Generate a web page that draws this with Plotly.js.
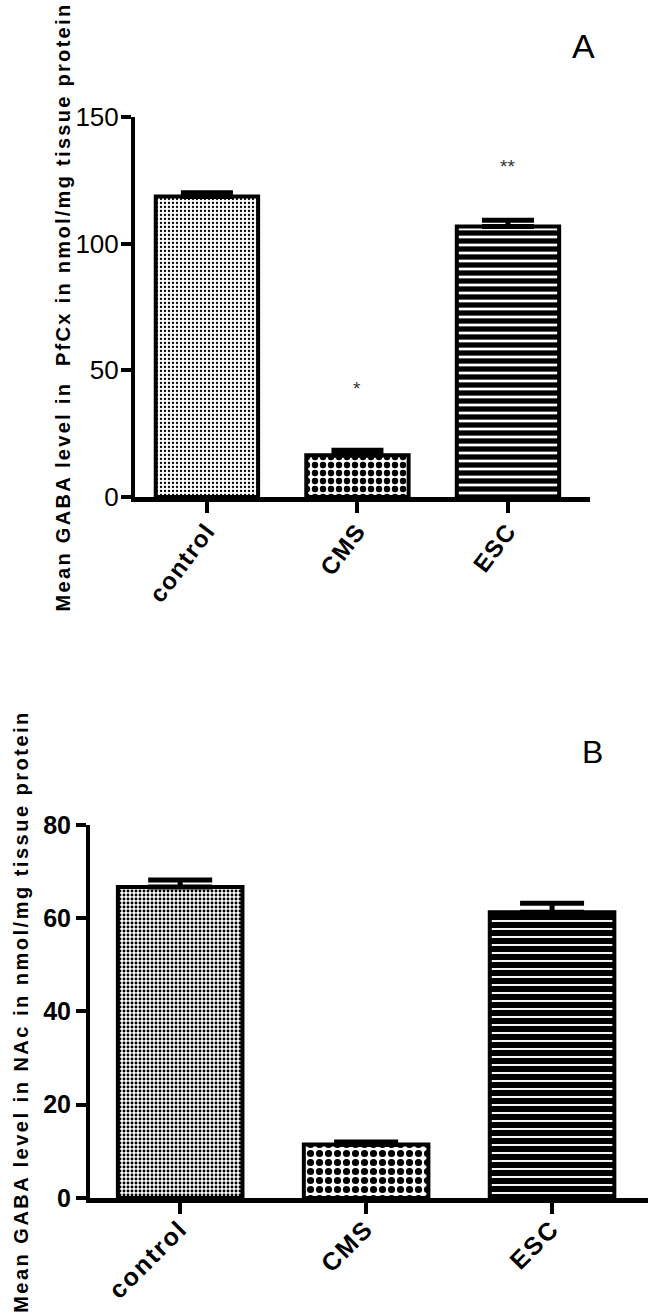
<!DOCTYPE html>
<html>
<head>
<meta charset="utf-8">
<script src="https://cdn.plot.ly/plotly-3.0.1.min.js"></script>
<style>
  html, body { margin: 0; padding: 0; background: #fff; }
  #chart { width: 648px; height: 1314px; }
</style>
</head>
<body>
<div id="chart"></div>
<script>
// ---- data ----
const categories = ['control', 'CMS', 'ESC'];

// Panel A: GABA in PfCx (nmol/mg tissue protein)
const valuesA = [118.6, 16.5, 106.8];
const errorsA = [1.5, 2.0, 2.4];
const signifA = ['', '*', '**'];
const yTicksA = [0, 50, 100, 150];

// Panel B: GABA in NAc (nmol/mg tissue protein)
const valuesB = [66.7, 11.5, 61.3];
const errorsB = [1.5, 0.5, 1.9];
const yTicksB = [0, 20, 40, 60, 80];

const titleA = 'Mean GABA level in  PfCx in nmol/mg tissue protein';
const titleB = 'Mean GABA level in NAc in nmol/mg tissue protein';

// ---- styles ----
const SANS = '"Liberation Sans", Arial, sans-serif';
const NARROW = '"Liberation Sans Narrow", "Arial Narrow", "Liberation Sans", sans-serif';

const patternsA = [
  {shape: '.', size: 4, solidity: 0.25},
  {shape: '.', size: 8, solidity: 0.5},
  {shape: '-', size: 8, solidity: 0.66}
];
const patternsB = [
  {shape: '.', size: 4, solidity: 0.42},
  {shape: '.', size: 9, solidity: 0.5},
  {shape: '-', size: 8, solidity: 0.76}
];

function barTrace(vals, errs, pats, xa, ya, capW, width) {
  return {
    type: 'bar',
    x: categories,
    y: vals,
    xaxis: xa, yaxis: ya,
    width: width,
    marker: {
      color: '#ffffff',
      line: {color: '#000000', width: 4},
      pattern: {
        shape: pats.map(p => p.shape),
        size: pats.map(p => p.size),
        solidity: pats.map(p => p.solidity),
        fgcolor: '#000000',
        bgcolor: '#ffffff',
        fgopacity: 1,
        fillmode: 'replace'
      }
    },
    error_y: {
      type: 'data',
      symmetric: false,
      array: errs,
      arrayminus: errs.map(() => 0),
      color: '#000000',
      thickness: 5,
      width: capW
    },
    hoverinfo: 'skip'
  };
}

const spaced = (s, px) => '<span style="letter-spacing:' + px + 'px">' + s + '</span>';

const data = [
  barTrace(valuesA, errorsA, patternsA, 'x', 'y', 26, 0.68),
  barTrace(valuesB, errorsB, patternsB, 'x2', 'y2', 32, 0.67)
];

const axisCommon = {
  showgrid: false,
  zeroline: false,
  showline: true,
  linecolor: '#000000',
  ticks: 'outside',
  tickcolor: '#000000',
  fixedrange: true
};

const annotations = [];
categories.forEach((c, i) => {
  if (signifA[i]) {
    annotations.push({
      x: c, y: valuesA[i] + errorsA[i], xref: 'x', yref: 'y',
      yshift: signifA[i] === '*' ? 62 : 54,
      text: signifA[i], showarrow: false,
      font: {family: SANS, size: 19, color: '#333333'}
    });
  }
});
annotations.push({
  x: 0.9, y: 0.965, xref: 'paper', yref: 'paper', xanchor: 'center', yanchor: 'middle',
  text: 'A', showarrow: false, font: {family: SANS, size: 34, color: '#000000'}
});
annotations.push({
  x: 0.915, y: 0.428, xref: 'paper', yref: 'paper', xanchor: 'center', yanchor: 'middle',
  text: 'B', showarrow: false, font: {family: SANS, size: 32, color: '#000000'}
});

const layout = {
  width: 648,
  height: 1314,
  margin: {l: 0, r: 0, t: 0, b: 0},
  paper_bgcolor: '#ffffff',
  plot_bgcolor: '#ffffff',
  showlegend: false,
  xaxis: Object.assign({}, axisCommon, {
    domain: [0.2083, 0.9105],
    anchor: 'y',
    type: 'category',
    range: [-0.478, 2.545],
    linewidth: 5,
    ticklen: 11,
    tickwidth: 4,
    tickangle: -53,
    ticklabelstandoff: -6,
    tickmode: 'array',
    tickvals: categories,
    ticktext: categories.map(c => spaced(c, 1.5)),
    tickfont: {family: SANS, size: 24, weight: 'bold', color: '#000000'}
  }),
  yaxis: Object.assign({}, axisCommon, {
    domain: [0.62177, 0.91096],
    anchor: 'x',
    range: [0, 150],
    tickmode: 'array',
    tickvals: yTicksA,
    linewidth: 4,
    ticklen: 10,
    tickwidth: 4,
    ticklabelstandoff: -3,
    tickfont: {family: NARROW, size: 26, color: '#000000'},
    title: {
      text: spaced(titleA, 2.3),
      font: {family: SANS, size: 20, weight: 'bold', color: '#000000'},
      standoff: 0
    }
  }),
  xaxis2: Object.assign({}, axisCommon, {
    domain: [0.1389, 1.0],
    anchor: 'y2',
    type: 'category',
    range: [-0.485, 2.516],
    linewidth: 5,
    ticklen: 11,
    tickwidth: 4,
    tickangle: -45,
    ticklabelstandoff: -10,
    tickmode: 'array',
    tickvals: categories,
    ticktext: categories.map(c => spaced(c, 2)),
    tickfont: {family: SANS, size: 25, weight: 'bold', color: '#000000'}
  }),
  yaxis2: Object.assign({}, axisCommon, {
    domain: [0.08828, 0.37215],
    anchor: 'x2',
    range: [0, 80],
    tickmode: 'array',
    tickvals: yTicksB,
    linewidth: 4,
    ticklen: 10,
    tickwidth: 4,
    tickfont: {family: SANS, size: 25, weight: 'bold', color: '#000000'},
    title: {
      text: spaced(titleB, 2.5),
      font: {family: SANS, size: 20, weight: 'bold', color: '#000000'},
      standoff: 10
    }
  }),
  annotations: annotations
};

Plotly.newPlot('chart', data, layout, {displayModeBar: false, staticPlot: true});
</script>
</body>
</html>
